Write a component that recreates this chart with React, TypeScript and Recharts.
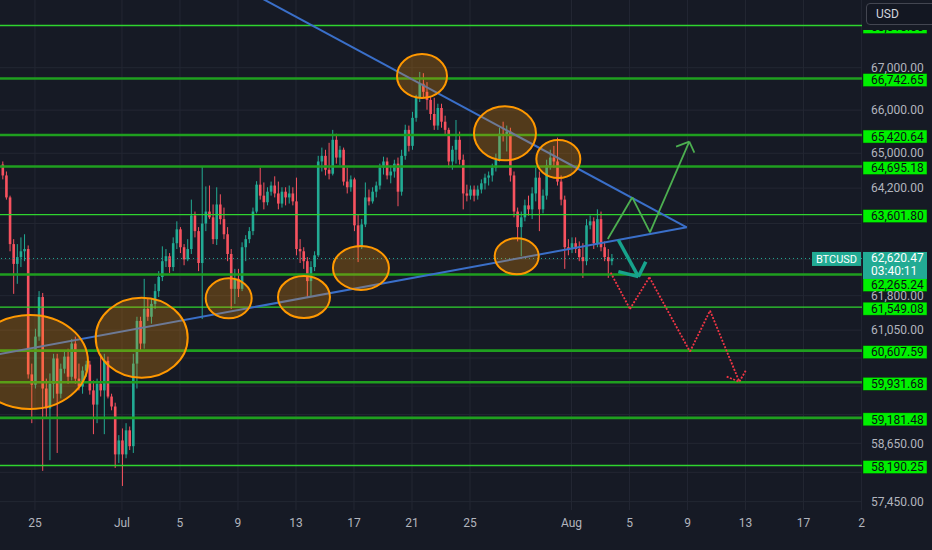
import React from "react";
import {
  ComposedChart,
  Bar,
  XAxis,
  YAxis,
  CartesianGrid,
  ReferenceLine,
  ReferenceDot,
} from "recharts";

// BTCUSD, 6h candles, open = previous close
const firstDay = 22.75; // day number counted from Jun 0 (Jul 1 = 31)
const stepDays = 0.25;
const firstOpen = 64740;

const closes = [
  64490, 63990, 62940, 62500, 62650, 62780, 62830, 60100, 59880, 60910,
  61770, 59800, 59380, 59900, 60440, 59690, 60220, 60480, 60050, 60760,
  60010, 59840, 60180, 60310, 59760, 59460, 59900, 59760, 60390, 59630,
  59420, 58420, 58710, 58420, 58920, 58590, 60330, 61250, 60760, 61510,
  61340, 61620, 61900, 62210, 62560, 62670, 62430, 62960, 63270, 62870,
  62600, 62830, 63580, 63230, 62520, 63400, 63670, 63540, 63050, 63830,
  63500, 63160, 62720, 61950, 62170, 61950, 62870, 63050, 63230, 63670,
  64280, 64030, 63880, 64120, 64260, 64080, 63850, 64120, 63990, 64080,
  63900, 62830, 62780, 62560, 62120, 62430, 62690, 64810, 64940, 64620,
  64530, 65310, 64900, 65080, 64350, 64220, 64400, 63360, 62870, 63380,
  63990, 63900, 64120, 64260, 64670, 64810, 64490, 64580, 64760, 64120,
  64940, 65540, 65170, 65820, 66290, 66620, 66430, 66240, 65910, 65640,
  66050, 65730, 65540, 64810, 65080, 65310, 64850, 64080, 64030, 64170,
  64030, 64170, 64310, 64440, 64490, 64670, 64850, 65450, 65400, 65500,
  64490, 63670, 63320, 63540, 63810, 63720, 64080, 64440, 63720, 64030,
  64720, 64900, 64810, 64350, 63940, 62870, 62830, 62960, 62830, 62650,
  62560, 63360, 63450, 62960, 63500, 62870, 62650, 62560, 62620.47,
];

const highs = [
  64810, 64580, 64030, 63050, 62940, 63090, 63160, 62910, 60330, 61080,
  61900, 61860, 60010, 60120, 60540, 60540, 60330, 60610, 60650, 60860,
  60910, 60330, 60270, 60390, 60390, 59970, 60010, 60540, 60540, 60480,
  59690, 59500, 58820, 58960, 59070, 59000, 60540, 61340, 61340, 62170,
  61730, 61730, 62060, 62340, 62890, 62830, 62740, 63090, 63450, 63320,
  62940, 63050, 63940, 63670, 63320, 64690, 64240, 64260, 63830, 64220,
  64060, 63760, 63320, 62830, 62390, 62390, 62980, 63140, 63320, 63760,
  64360, 64670, 64330, 64220, 64350, 64470, 64350, 64220, 64220, 64260,
  64220, 64440, 63050, 62870, 62650, 62560, 62780, 64940, 65130, 65080,
  65240, 65540, 65450, 65170, 65130, 64670, 64490, 64440, 63610, 63500,
  64330, 64170, 64220, 64350, 64760, 64920, 64900, 64720, 64850, 64900,
  65080, 65660, 65640, 65960, 66360, 66900, 66870, 66660, 66330, 66290,
  66150, 66150, 65870, 65590, 65170, 65770, 65500, 64970, 64280, 64260,
  64260, 64260, 64400, 64530, 64580, 64760, 64990, 65590, 65730, 65640,
  65590, 64580, 63760, 63670, 63940, 64030, 64220, 64670, 64580, 64170,
  64850, 65080, 65170, 65360, 64490, 64030, 63050, 63090, 63090, 63000,
  62960, 63500, 63580, 63540, 63720, 63670, 63000, 62830, 62720,
];

const lows = [
  64400, 63940, 62780, 61840, 62060, 62430, 62560, 60010, 59070, 59800,
  60820, 58080, 59170, 58300, 59590, 58450, 59590, 60120, 59900, 59970,
  59900, 59760, 59690, 60050, 59670, 58840, 59070, 59630, 58840, 59590,
  59340, 58140, 58240, 57770, 58340, 58510, 58450, 59800, 60610, 60650,
  61250, 61190, 61510, 61770, 62120, 62430, 62300, 62340, 62830, 62740,
  62470, 62560, 62720, 63090, 62340, 61290, 63230, 63500, 62940, 62920,
  63380, 63050, 62560, 61510, 61620, 61770, 61900, 62560, 62960, 63140,
  63630, 63940, 63720, 63810, 64030, 63990, 63720, 63760, 63810, 63850,
  63810, 62690, 62520, 62390, 61770, 61770, 62340, 62650, 64580, 64490,
  64400, 64490, 64760, 64720, 64260, 64080, 64120, 63230, 62540, 62830,
  63320, 63810, 63850, 63990, 64170, 64510, 64400, 64310, 64440, 63790,
  64030, 64850, 65040, 65080, 65730, 66190, 66290, 66010, 65770, 65540,
  65540, 65590, 65430, 64670, 64620, 64760, 64740, 63720, 63900, 63940,
  63900, 63940, 64080, 64170, 64260, 64350, 64580, 64810, 65270, 65040,
  64350, 63540, 63000, 62670, 63450, 63580, 63500, 63900, 63230, 63630,
  63940, 64620, 64670, 64260, 63810, 62390, 62690, 62740, 62740, 62560,
  62190, 62470, 63270, 62830, 62870, 62780, 62560, 62190, 62470,
];

const dayTicks = [25, 31, 35, 39, 43, 47, 51, 55, 62, 66, 70, 74, 78, 82];
const dayLabels = ["25", "Jul", "5", "9", "13", "17", "21", "25", "Aug", "5", "9", "13", "17", "2"];

// axis labels that are not covered by the level tags
const priceTicks = [67000, 66000, 65000, 64200, 61800, 61050, 58650, 57450];
const gridPrices = [67000, 66000, 65000, 64200, 63400, 62600, 61800, 61050, 60450, 59850, 59250, 58650, 58050, 57450];

// horizontal levels drawn on the chart
const levelPrices = [68010, 66742.65, 65420.64, 64695.18, 63601.8, 62265.24, 61549.08, 60607.59, 59931.68, 59181.48, 58190.25];
const heavyLevels = [false, true, true, true, false, true, false, true, true, true, false];

// triangle
const upperTrend = [{ day: 39.83, price: 68822 }, { day: 69.945, price: 63316 }];
const lowerTrend = [{ day: 22.31, price: 60520 }, { day: 69.945, price: 63316 }];

// orange zones
const zones = [
  { day: 24.66, price: 60364, rx: 58, ry: 47 },
  { day: 32.36, price: 60887, rx: 46, ry: 40 },
  { day: 38.36, price: 61743, rx: 23, ry: 20 },
  { day: 43.55, price: 61771, rx: 26, ry: 21 },
  { day: 47.48, price: 62409, rx: 28, ry: 22 },
  { day: 51.69, price: 66803, rx: 25, ry: 22 },
  { day: 57.41, price: 65460, rx: 31, ry: 27 },
  { day: 61.09, price: 64867, rx: 22, ry: 19 },
  { day: 58.22, price: 62669, rx: 22, ry: 18 },
];

// projections
const bullPath = [
  { day: 64.5, price: 63054 },
  { day: 66.19, price: 63992 },
  { day: 67.41, price: 63204 },
  { day: 70.12, price: 65266 },
];
const bullHead = [{ day: 69.21, price: 65151 }, { day: 70.47, price: 65012 }];
const dipArrow = [{ day: 65.23, price: 63032 }, { day: 66.61, price: 62218 }];
const dipHead = [{ day: 65.23, price: 62328 }, { day: 67.12, price: 62549 }];
const bearPath = [
  { day: 64.7, price: 62306 },
  { day: 66.03, price: 61509 },
  { day: 67.37, price: 62204 },
  { day: 70.17, price: 60586 },
  { day: 71.55, price: 61472 },
  { day: 73.57, price: 59944 },
];
const bearHead = [{ day: 72.7, price: 60051 }, { day: 74.01, price: 60179 }];

const UP = "#22ab94";
const DOWN = "#f7525f";
const BG = "#161a25";

const candles = closes.map((close, i) => ({
  day: firstDay + i * stepDays,
  open: i === 0 ? firstOpen : closes[i - 1],
  high: highs[i],
  low: lows[i],
  close,
}));
const lastClose = closes[closes.length - 1];

const fmt = (v: number) =>
  v.toLocaleString("en-US", { minimumFractionDigits: 2, maximumFractionDigits: 2 });

const Candle = (props: any) => {
  const { x, y, width, height, payload } = props;
  if (!payload) return null;
  const top = Math.min(y, y + height);
  const bottom = Math.max(y, y + height);
  const { open, close, high, low } = payload;
  const span = Math.log(high) - Math.log(low);
  const toY = (p: number) =>
    span === 0 ? top : top + ((bottom - top) * (Math.log(high) - Math.log(p))) / span;
  const yo = toY(open);
  const yc = toY(close);
  const color = close >= open ? UP : DOWN;
  const cx = x + width / 2;
  return (
    <g>
      <line x1={cx} x2={cx} y1={top} y2={bottom} stroke={color} strokeWidth={1} />
      <rect x={x} y={Math.min(yo, yc)} width={width} height={Math.max(1, Math.abs(yc - yo))} fill={color} />
    </g>
  );
};

const LevelTag = ({ viewBox, value, shift }: any) => {
  const x = viewBox.x + viewBox.width + 1;
  const y = viewBox.y + shift;
  return (
    <g>
      <rect x={x} y={y - 6.5} width={64} height={13} fill="#00f000" stroke="#0b3b0b" strokeWidth={0.5} />
      <text x={x + 8} y={y + 4.2} fontSize={12} fill="#0b0e14">
        {fmt(value)}
      </text>
    </g>
  );
};

const PriceTag = ({ viewBox }: any) => {
  const x = viewBox.x + viewBox.width;
  const y = viewBox.y;
  return (
    <g>
      <rect x={x - 50} y={y - 6.5} width={49} height={14} fill={UP} />
      <text x={x - 25.5} y={y + 4.5} fontSize={11} fill="#ffffff" textAnchor="middle">
        BTCUSD
      </text>
      <rect x={x + 1} y={y - 6.5} width={64} height={27} fill={UP} />
      <text x={x + 9} y={y + 4} fontSize={12} fill="#ffffff">
        {fmt(lastClose)}
      </text>
      <text x={x + 9} y={y + 16.5} fontSize={12} fill="#ffffff">
        03:40:11
      </text>
    </g>
  );
};

const seg = (pts: { day: number; price: number }[]) =>
  pts.slice(1).map((p, i) => [
    { x: pts[i].day, y: pts[i].price },
    { x: p.day, y: p.price },
  ]);

const head = (tip: { day: number; price: number }, wings: { day: number; price: number }[]) =>
  wings.map((w) => [
    { x: w.day, y: w.price },
    { x: tip.day, y: tip.price },
  ]);

export default function App() {
  const bullSegs = [...seg(bullPath), ...head(bullPath[bullPath.length - 1], bullHead)];
  const dipSegs = [...seg(dipArrow), ...head(dipArrow[1], dipHead)];
  const bearSegs = [...seg(bearPath), ...head(bearPath[bearPath.length - 1], bearHead)];

  return (
    <div
      style={{
        position: "absolute",
        left: 0,
        top: 0,
        width: 932,
        height: 550,
        background: BG,
        fontFamily: "Roboto, 'DejaVu Sans', sans-serif",
        overflow: "hidden",
      }}
    >
      <ComposedChart width={932} height={550} data={candles} margin={{ top: 0, right: 0, bottom: 0, left: 0 }}>
        <CartesianGrid stroke="#232733" horizontalValues={gridPrices} verticalValues={dayTicks} />
        <XAxis
          dataKey="day"
          type="number"
          domain={[22.59, 82.03]}
          allowDataOverflow
          ticks={dayTicks}
          interval={0}
          tickFormatter={(v: number) => dayLabels[dayTicks.indexOf(v)] ?? ""}
          axisLine={false}
          tickLine={false}
          height={40}
          tick={{ fill: "#b2b5be", fontSize: 12 }}
        />
        <YAxis
          orientation="right"
          type="number"
          scale="log"
          domain={[57280, 68627]}
          allowDataOverflow
          ticks={priceTicks}
          interval={0}
          width={70}
          axisLine={false}
          tickLine={false}
          tickSize={6}
          tickMargin={3}
          tickFormatter={fmt}
          tick={{ fill: "#b2b5be", fontSize: 12 }}
        />
        <Bar
          dataKey={(d: any) => [d.low, d.high]}
          barSize={2.6}
          shape={<Candle />}
          isAnimationActive={false}
        />
        {levelPrices.map((p, i) => (
          <ReferenceLine
            key={`lv${i}`}
            y={p}
            stroke={heavyLevels[i] ? "#1f9f1f" : "#2fd42f"}
            strokeWidth={heavyLevels[i] ? 2.6 : 1.4}
            label={(props: any) => (
              <LevelTag {...props} value={p} shift={p === 62265.24 ? 10.5 : 1.5} />
            )}
          />
        ))}
        <ReferenceLine
          y={lastClose}
          stroke={UP}
          strokeDasharray="1 3"
          strokeWidth={1}
          label={(props: any) => <PriceTag {...props} />}
        />
        <ReferenceLine
          segment={upperTrend.map((p) => ({ x: p.day, y: p.price }))}
          stroke="#3a6fc9"
          strokeWidth={2}
          ifOverflow="hidden"
        />
        <ReferenceLine
          segment={lowerTrend.map((p) => ({ x: p.day, y: p.price }))}
          stroke="#3a6fc9"
          strokeWidth={2}
          ifOverflow="hidden"
        />
        {zones.map((z, i) => (
          <ReferenceDot
            key={`z${i}`}
            x={z.day}
            y={z.price}
            r={2}
            ifOverflow="visible"
            shape={(props: any) => (
              <ellipse
                cx={props.cx}
                cy={props.cy}
                rx={z.rx}
                ry={z.ry}
                fill="#ff9800"
                fillOpacity={0.26}
                stroke="#ff9800"
                strokeWidth={2}
              />
            )}
          />
        ))}
        {bullSegs.map((s, i) => (
          <ReferenceLine key={`b${i}`} segment={s} stroke="#4caf50" strokeWidth={1.8} ifOverflow="visible" />
        ))}
        {dipSegs.map((s, i) => (
          <ReferenceLine key={`d${i}`} segment={s} stroke="#17a38c" strokeWidth={3.5} ifOverflow="visible" />
        ))}
        {bearSegs.map((s, i) => (
          <ReferenceLine
            key={`r${i}`}
            segment={s}
            stroke="#f23645"
            strokeWidth={1.8}
            strokeDasharray="2 1.5"
            ifOverflow="visible"
          />
        ))}
      </ComposedChart>
      <div style={{ position: "absolute", left: 862, top: 0, width: 70, height: 30, background: BG }} />
      <div
        style={{
          position: "absolute",
          left: 866,
          top: 3,
          width: 59,
          height: 20,
          border: "1px solid #434651",
          borderRadius: 4,
          background: "#131722",
          color: "#d1d4dc",
          fontSize: 12,
          lineHeight: "20px",
          paddingLeft: 9,
          boxSizing: "content-box",
        }}
      >
        USD
      </div>
    </div>
  );
}
